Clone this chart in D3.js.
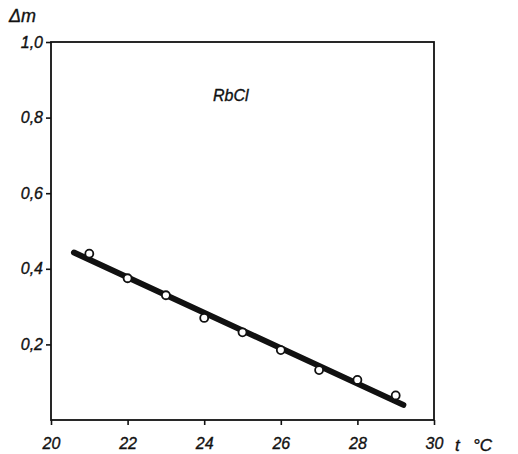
<!DOCTYPE html>
<html>
<head>
<meta charset="utf-8">
<script src="https://cdn.jsdelivr.net/npm/d3@7"></script>
<style>
  body { margin: 0; background: #fff; }
  svg text { font-family: "Liberation Sans", sans-serif; font-style: italic; fill: #111; stroke: #111; stroke-width: 0.35; }
</style>
</head>
<body>
<div id="chart"></div>
<script>

// DATA
var temps = [21, 22, 23, 24, 25, 26, 27, 28, 29];
var deltaM = [0.44, 0.375, 0.33, 0.27, 0.232, 0.185, 0.132, 0.106, 0.065];

// FITTED LINE ENDPOINTS
var fitT = [20.6, 29.2];
var fitM = [0.443, 0.04];

// TICKS
var xTicks = [20, 22, 24, 26, 28, 30];
var yTicks = [0.2, 0.4, 0.6, 0.8, 1.0];

// CANVAS
var svg = d3.select('#chart').append('svg')
   .attr('width', 518)
   .attr('height', 454)

// SCALES
var x = d3.scaleLinear().domain([20, 30]).range([51, 434])
var y = d3.scaleLinear().domain([0, 1]).range([420, 42])

// FRAME
svg.append('rect')
   .attr('x', x(20))
   .attr('y', y(1))
   .attr('width', x(30) - x(20))
   .attr('height', y(0) - y(1))
   .attr('fill', 'none')
   .attr('stroke', '#111')
   .attr('stroke-width', 1.8)

// Y AXIS
var yAxis = svg.append('g')
   .attr('transform', 'translate(' + x(20) + ',0)')
   .call(d3.axisLeft(y)
      .tickValues(yTicks)
      .tickSize(5)
      .tickPadding(3)
      .tickFormat(d => d3.format('.1f')(d).replace('.', ',')))
yAxis.select('.domain').remove()
yAxis.selectAll('line').attr('stroke', '#111').attr('stroke-width', 1.6)
yAxis.selectAll('text')
   .attr('font-size', 16)
   .attr('font-family', null)
   .attr('fill', null)

// X AXIS
var xAxis = svg.append('g')
   .attr('transform', 'translate(0,' + y(0) + ')')
   .call(d3.axisBottom(x)
      .tickValues(xTicks)
      .tickSize(5)
      .tickPadding(13)
      .tickFormat(d3.format('d')))
xAxis.select('.domain').remove()
xAxis.selectAll('line').attr('stroke', '#111').attr('stroke-width', 1.6)
xAxis.selectAll('text')
   .attr('font-size', 16)
   .attr('font-family', null)
   .attr('fill', null)

// AXIS TITLES
svg.append('text')
   .attr('x', 9)
   .attr('y', 22)
   .attr('font-size', 18)
   .text('Δm')

svg.append('text')
   .attr('x', 455)
   .attr('y', 451)
   .attr('font-size', 17)
   .text('t')

svg.append('text')
   .attr('x', 473)
   .attr('y', 451)
   .attr('font-size', 17)
   .text('°C')

// SUBSTANCE LABEL
svg.append('text')
   .attr('x', 213)
   .attr('y', 101)
   .attr('font-size', 16)
   .text('RbCl')

// FITTED LINE
var fitLine = d3.line()
   .x((d, i) => x(fitT[i]))
   .y(d => y(d))

svg.append('path')
   .attr('d', fitLine(fitM))
   .attr('fill', 'none')
   .attr('stroke', '#111')
   .attr('stroke-width', 6)
   .attr('stroke-linecap', 'round')

// DATA POINTS
svg.selectAll('circle')
   .data(deltaM)
   .enter().append('circle')
      .attr('cx', (d, i) => x(temps[i]))
      .attr('cy', d => y(d))
      .attr('r', 4)
      .attr('fill', '#fff')
      .attr('stroke', '#111')
      .attr('stroke-width', 1.8)

</script>
</body>
</html>
